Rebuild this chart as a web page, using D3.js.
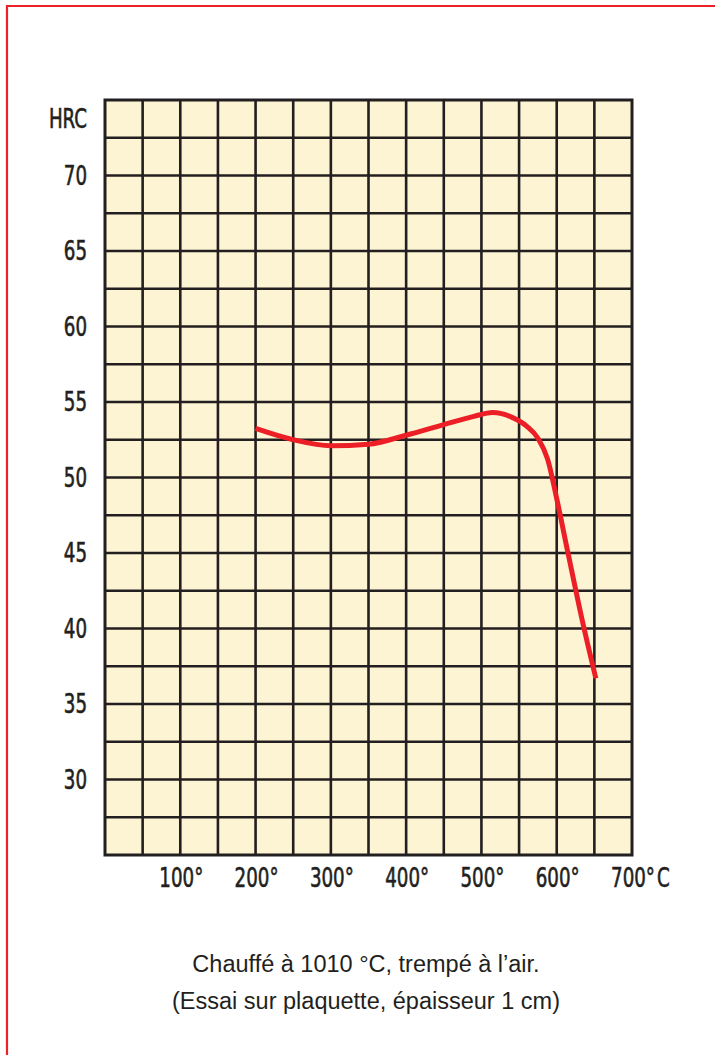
<!DOCTYPE html>
<html><head><meta charset="utf-8">
<script src="https://cdn.jsdelivr.net/npm/d3@7"></script>
<style>
html,body{margin:0;padding:0;background:#fff;}
svg{display:block;}
</style></head>
<body>
<script>
// ---- data ----
const temperatures = [200, 250, 300, 350, 400, 450, 490, 515, 540, 560, 575, 588, 600, 615, 635, 652];
const hardness     = [53.25, 52.5, 52.1, 52.2, 52.8, 53.5, 54.05, 54.3, 54.0, 53.4, 52.6, 51.2, 48.6, 45.0, 40.3, 36.7];
const xTickValues = [100, 200, 300, 400, 500, 600, 700];
const xTickLabels = ["100°", "200°", "300°", "400°", "500°", "600°", "700°"];
const yTickValues = [70, 65, 60, 55, 50, 45, 40, 35, 30];
const yAxisTitle = "HRC";
const xUnit = "C";
const captionLines = ["Chauffé à 1010 °C, trempé à l’air.", "(Essai sur plaquette, épaisseur 1 cm)"];

const W = 715, H = 1055;
const svg = d3.select("body").append("svg").attr("width", W).attr("height", H);

// frame (cropped on right/bottom)
svg.append("path").attr("d", `M7,${H+5} L7,6 L${W+5},6`)
  .attr("fill", "none").attr("stroke", "#ec2229").attr("stroke-width", 2.2);

const plot = {left: 105, top: 100, right: 632, bottom: 855};
const x = d3.scaleLinear().domain([0, 700]).range([plot.left, plot.right]);
const y = d3.scaleLinear().domain([25, 75]).range([plot.bottom, plot.top]);

const gridColor = "#231f20";
svg.append("rect").attr("x", x(0)).attr("y", y(75))
  .attr("width", x(700) - x(0)).attr("height", y(25) - y(75))
  .attr("fill", "#fdf4d3");

const xGrid = d3.range(50, 700, 50);
const yGrid = d3.range(27.5, 75, 2.5);
svg.append("g").selectAll("line").data(xGrid).join("line")
  .attr("x1", d => x(d)).attr("x2", d => x(d))
  .attr("y1", y(75)).attr("y2", y(25))
  .attr("stroke", gridColor).attr("stroke-width", 2.6);
svg.append("g").selectAll("line").data(yGrid).join("line")
  .attr("x1", x(0)).attr("x2", x(700))
  .attr("y1", d => y(d)).attr("y2", d => y(d))
  .attr("stroke", gridColor).attr("stroke-width", 2.6);
svg.append("rect").attr("x", x(0)).attr("y", y(75))
  .attr("width", x(700) - x(0)).attr("height", y(25) - y(75))
  .attr("fill", "none").attr("stroke", gridColor).attr("stroke-width", 3);

// curve
const pts = temperatures.map((t, i) => [t, hardness[i]]);
const line = d3.line().x(d => x(d[0])).y(d => y(d[1])).curve(d3.curveMonotoneX);
svg.append("path").attr("d", line(pts)).attr("fill", "none")
  .attr("stroke", "#ec1f27").attr("stroke-width", 5).attr("stroke-linecap", "butt")
  .attr("stroke-linejoin", "round");

// labels
const labFont = "'Liberation Sans Narrow', 'DejaVu Sans Condensed', sans-serif";
const labColor = "#231f20";
function condText(g, txt, px, py, anchor) {
  return g.append("text").text(txt)
    .attr("font-family", labFont).attr("font-size", 26)
    .attr("fill", labColor).attr("stroke", labColor).attr("stroke-width", 0.6)
    .attr("text-anchor", anchor)
    .attr("transform", `translate(${px},${py}) scale(0.78,1)`);
}
const gl = svg.append("g");
yTickValues.forEach(v => condText(gl, String(v), 87, y(v) + 9, "end"));
condText(gl, yAxisTitle, 87, y(73.75) + 9, "end");
xTickValues.forEach((v, i) => condText(gl, xTickLabels[i], x(v) + 1, 887, "middle"));
condText(gl, xUnit, 657, 887, "start");

// caption
svg.append("g").selectAll("text").data(captionLines).join("text")
  .attr("x", 366).attr("y", (d, i) => 972 + i * 37)
  .attr("text-anchor", "middle")
  .attr("font-family", "'Liberation Sans', Arial, sans-serif")
  .attr("font-size", 23.5).attr("fill", "#231f20")
  .text(d => d);
</script>
</body></html>
